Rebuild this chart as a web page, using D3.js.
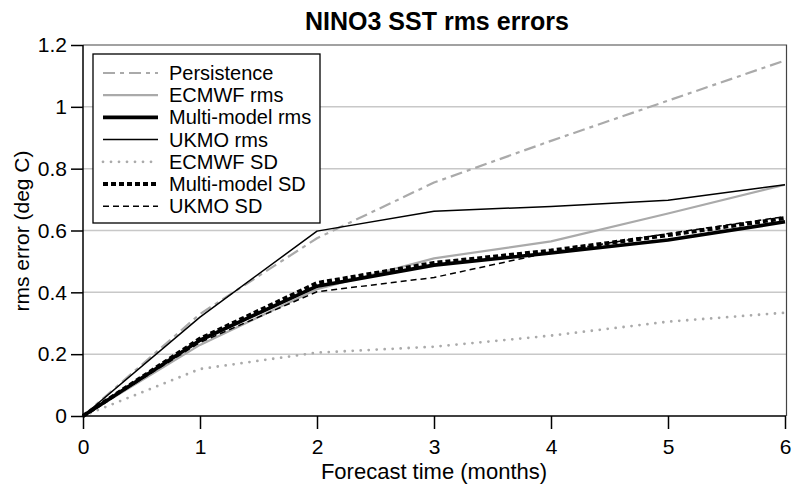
<!DOCTYPE html>
<html><head><meta charset="utf-8">
<script src="https://cdn.jsdelivr.net/npm/d3@7"></script>
<style>body{margin:0;background:#fff}svg{display:block;font-family:"Liberation Sans",Arial,Helvetica,sans-serif}</style>
</head><body><svg id="c" width="794" height="486"></svg>
<script>
const months = [0,1,2,3,4,5,6];
const persistence = [0,0.33,0.575,0.755,0.89,1.02,1.15];
const ecmwfRms    = [0,0.23,0.41,0.51,0.565,0.655,0.748];
const multiRms    = [0,0.245,0.42,0.488,0.527,0.569,0.628];
const ukmoRms     = [0,0.32,0.598,0.662,0.678,0.698,0.748];
const ecmwfSD     = [0,0.152,0.205,0.224,0.26,0.305,0.334];
const multiSD     = [0,0.25,0.43,0.495,0.535,0.585,0.64];
const ukmoSD      = [0,0.238,0.402,0.448,0.53,0.59,0.645];
const seriesNames = ["Persistence","ECMWF rms","Multi-model rms","UKMO rms","ECMWF SD","Multi-model SD","UKMO SD"];
const yTicks = [0,0.2,0.4,0.6,0.8,1,1.2];
const yTickLabels = ["0","0.2","0.4","0.6","0.8","1","1.2"];
const xTicks = [0,1,2,3,4,5,6];

const styles = {
  "Persistence":{stroke:"#aaa",w:2.2,dash:"12,5,4,5",cap:"butt"},
  "ECMWF rms":{stroke:"#aaa",w:2.2,dash:null,cap:"butt"},
  "Multi-model rms":{stroke:"#000",w:3.6,dash:null,cap:"butt"},
  "UKMO rms":{stroke:"#000",w:1.5,dash:null,cap:"butt"},
  "ECMWF SD":{stroke:"#aaa",w:2.8,dash:"0,8",cap:"round"},
  "Multi-model SD":{stroke:"#000",w:4,dash:"5,3",cap:"butt"},
  "UKMO SD":{stroke:"#000",w:1.5,dash:"6,4",cap:"butt"}
};
const data = {
  "Persistence":persistence,"ECMWF rms":ecmwfRms,"Multi-model rms":multiRms,
  "UKMO rms":ukmoRms,"ECMWF SD":ecmwfSD,"Multi-model SD":multiSD,"UKMO SD":ukmoSD
};

const svg = d3.select("#c");
const L=83, R=785, T=45, B=416;
const x = d3.scaleLinear().domain([0,6]).range([L,R]);
const y = d3.scaleLinear().domain([0,1.2]).range([B,T]);

svg.append("g").selectAll("line").data(yTicks.filter(v=>v>0&&v<1.2)).join("line")
  .attr("x1",L).attr("x2",R+1).attr("y1",d=>y(d)).attr("y2",d=>y(d))
  .attr("stroke","#c8c8c8").attr("stroke-width",1.5);

svg.append("path").attr("d",`M${L},${T}H${R+1.5}V${B}`).attr("fill","none").attr("stroke","#444").attr("stroke-width",1.2);

const line = d3.line().x((d,i)=>x(months[i])).y(d=>y(d));
const order = ["Persistence","ECMWF SD","ECMWF rms","UKMO rms","UKMO SD","Multi-model rms","Multi-model SD"];
order.forEach(n=>{
  const s=styles[n];
  svg.append("path").datum(data[n]).attr("d",line).attr("fill","none")
    .attr("stroke",s.stroke).attr("stroke-width",s.w).attr("stroke-linecap",s.cap)
    .attr("stroke-linejoin","round").attr("stroke-dasharray",s.dash);
});

const yAxis = d3.axisLeft(y).tickValues(yTicks).tickFormat((d,i)=>yTickLabels[i]).tickSize(12).tickPadding(4);
const gy = svg.append("g").attr("transform",`translate(${L},0)`).call(yAxis);
const xAxis = d3.axisBottom(x).tickValues(xTicks).tickFormat(d3.format("d")).tickSize(13).tickPadding(10);
const gx = svg.append("g").attr("transform",`translate(0,${B})`).call(xAxis);
[gx,gy].forEach(g=>{
  g.select(".domain").attr("stroke","#000").attr("stroke-width",1.5);
  g.selectAll(".tick line").attr("stroke","#000").attr("stroke-width",1.5);
  g.selectAll("text").attr("font-size",21).attr("fill","#000").attr("font-family","Liberation Sans, Arial, sans-serif");
});
gy.select(".domain").attr("d",`M0,${T}V${B}`);
gx.select(".domain").attr("d",`M${L},0H${R+1}`);

svg.append("text").attr("x",437).attr("y",30).attr("text-anchor","middle")
  .attr("font-size",25).attr("font-weight","bold").text("NINO3 SST rms errors");
svg.append("text").attr("x",434).attr("y",479).attr("text-anchor","middle")
  .attr("font-size",22).text("Forecast time (months)");
svg.append("text").attr("transform","translate(29,231) rotate(-90)").attr("text-anchor","middle")
  .attr("font-size",21).text("rms error (deg C)");

const lg = svg.append("g");
lg.append("rect").attr("x",93).attr("y",54).attr("width",227).attr("height",169)
  .attr("fill","#fff").attr("stroke","#000").attr("stroke-width",1.3);
seriesNames.forEach((n,i)=>{
  const yy = 73 + i*22.2;
  const s=styles[n];
  lg.append("line").attr("x1",103).attr("x2",158).attr("y1",yy).attr("y2",yy)
    .attr("stroke",s.stroke).attr("stroke-width",s.w).attr("stroke-linecap",s.cap)
    .attr("stroke-dasharray",s.dash);
  lg.append("text").attr("x",169).attr("y",yy+7).attr("font-size",20).text(n);
});
</script></body></html>
